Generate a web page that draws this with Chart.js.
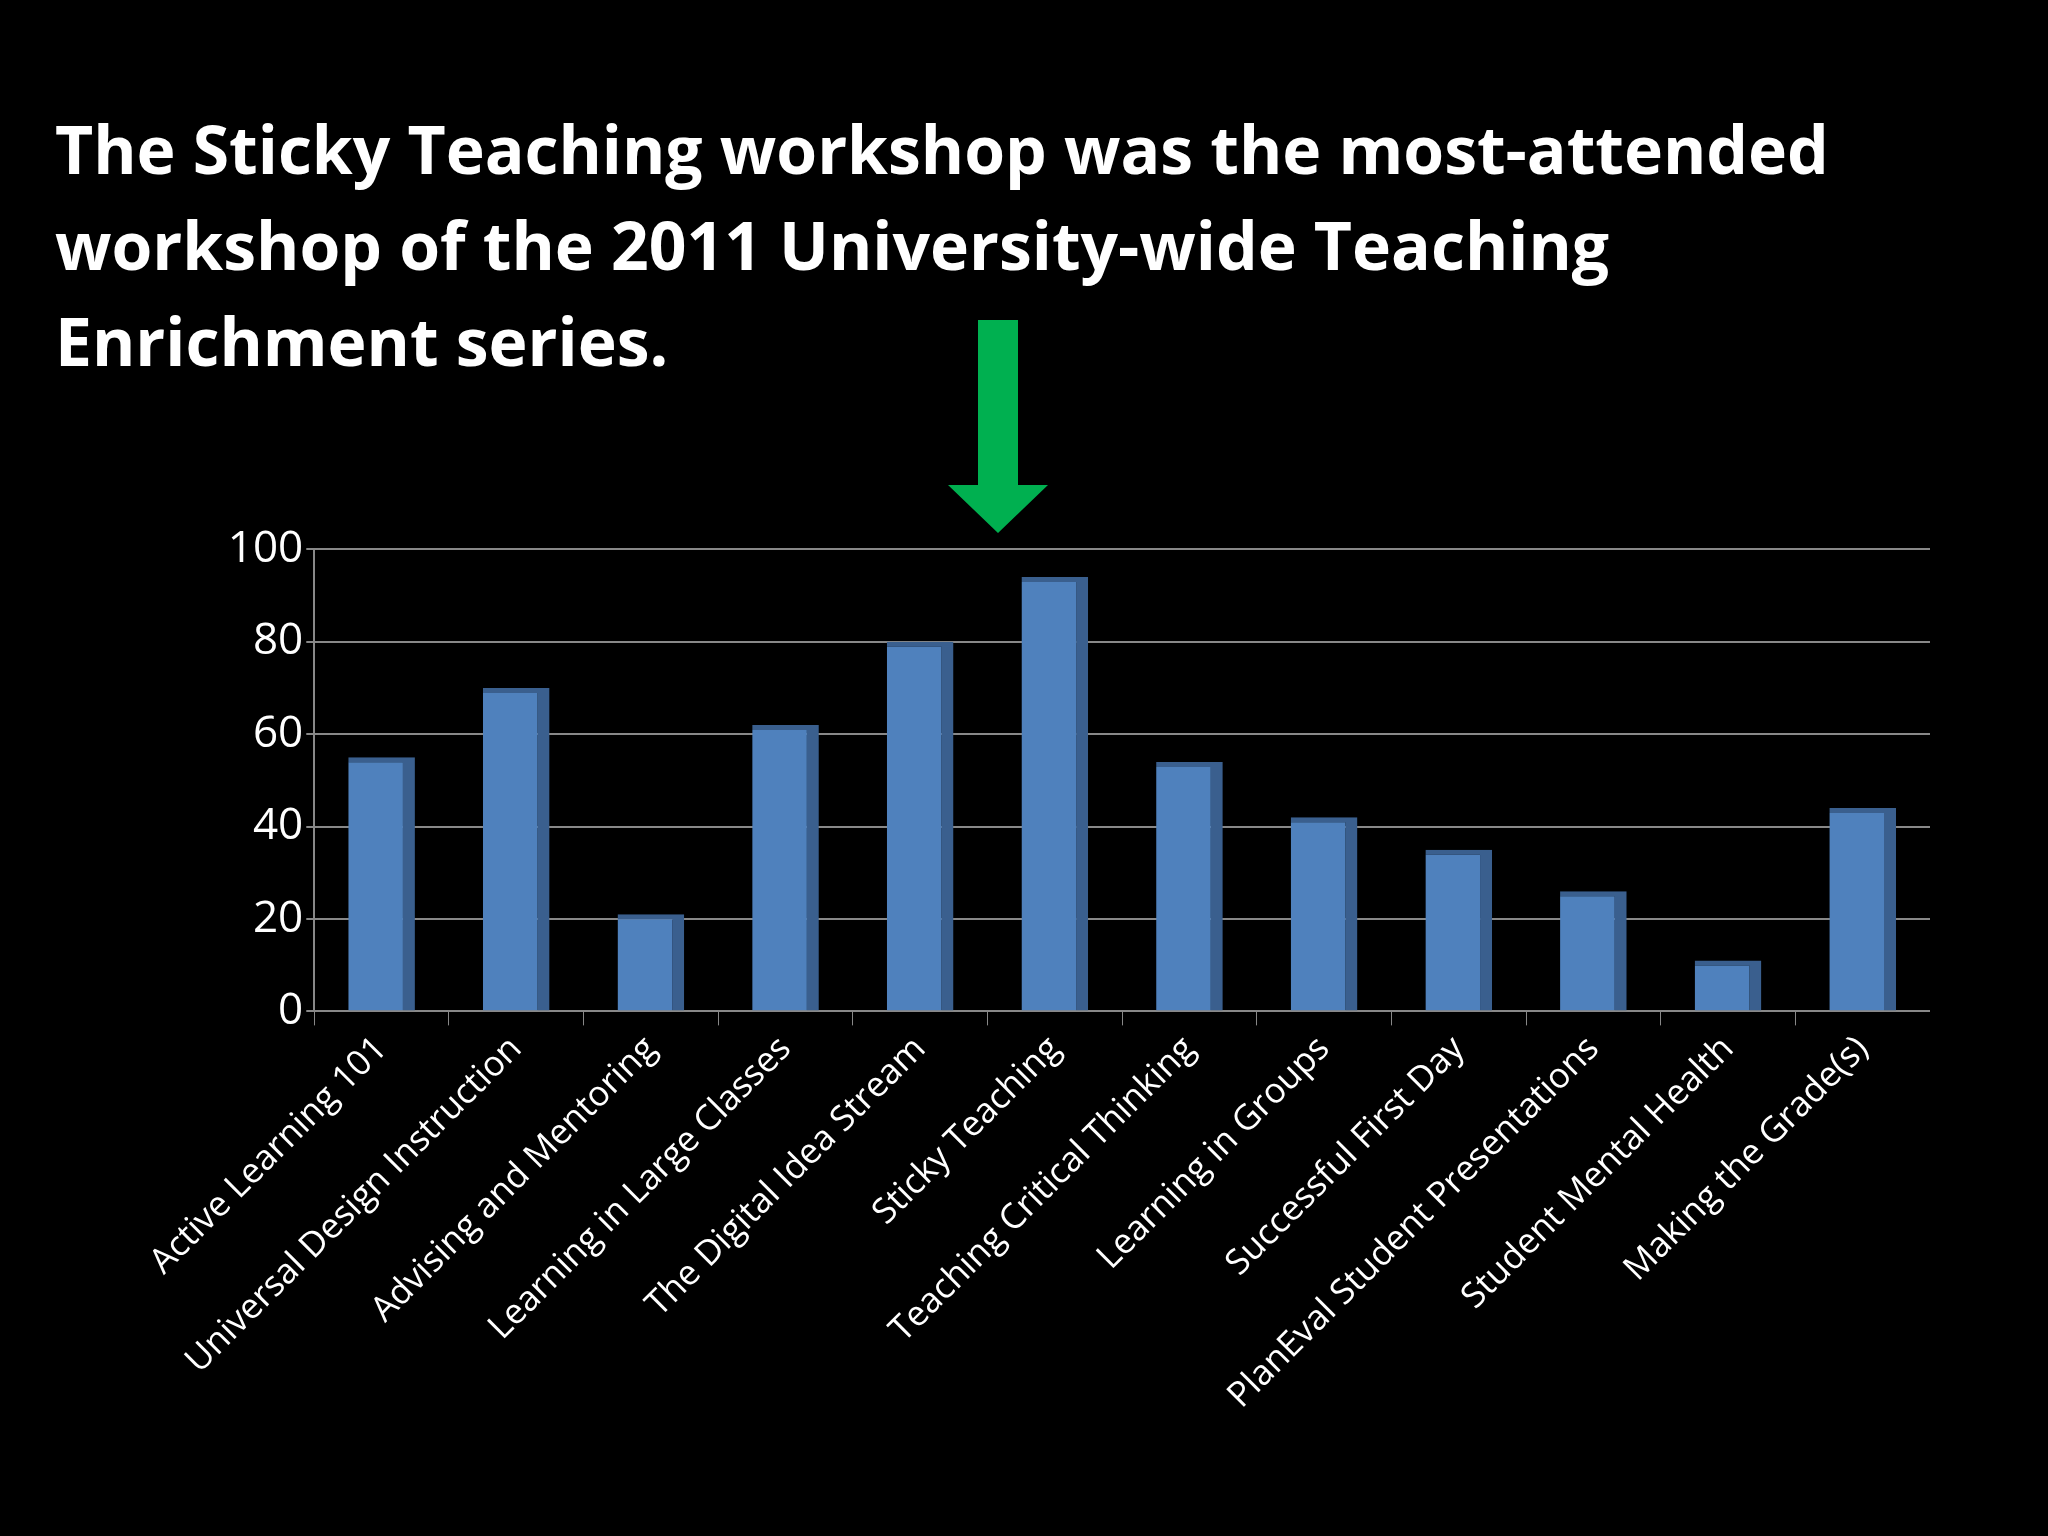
<!DOCTYPE html>
<html><head><meta charset="utf-8">
<script src="https://cdn.jsdelivr.net/npm/chart.js@4"></script>
<style>
html,body{margin:0;background:#000;width:2048px;height:1536px;overflow:hidden;font-family:"Open Sans",sans-serif}
#title{position:absolute;left:55px;top:100px;color:#fff;font-weight:bold;font-size:66px;line-height:96px;width:1900px}
#wrap{position:absolute;left:150px;top:520px;width:1780px;height:900px}
#arrow{position:absolute;left:948px;top:320px}
</style></head><body>
<div id="title">The Sticky Teaching workshop was the most-attended<br>workshop of the 2011 University-wide Teaching<br>Enrichment series.</div>
<svg id="arrow" width="100" height="215"><polygon points="30,0 70,0 70,165 100,165 50,213 0,165 30,165" fill="#00b050"/></svg>
<div id="wrap"><canvas id="c"></canvas></div>
<script>
const categories=["Active Learning 101","Universal Design Instruction","Advising and Mentoring","Learning in Large Classes","The Digital Idea Stream","Sticky Teaching","Teaching Critical Thinking","Learning in Groups","Successful First Day","PlanEval Student Presentations","Student Mental Health","Making the Grade(s)"];
const attendance=[55,70,21,62,80,94,54,42,35,26,11,44];
const yTicks=[0,20,40,60,80,100];
new Chart(document.getElementById('c'),{type:'bar',
data:{labels:categories,datasets:[{data:attendance,backgroundColor:'#4f81bd',borderColor:'#3a5f8e',borderWidth:{right:12,top:5},categoryPercentage:0.9,barPercentage:0.55}]},
options:{responsive:true,maintainAspectRatio:false,animation:false,
plugins:{legend:{display:false},tooltip:{enabled:false}},
scales:{
y:{min:0,max:100,afterBuildTicks:a=>{a.ticks=yTicks.map(v=>({value:v}))},ticks:{color:'#fff',font:{size:44,family:'Open Sans'}},grid:{color:'#888',lineWidth:2},border:{color:'#888',width:2}},
x:{ticks:{color:'#fff',font:{size:35,family:'Open Sans'},maxRotation:45,minRotation:45},grid:{display:true,drawOnChartArea:false,color:'#888',tickLength:14},border:{color:'#888',width:2}}
}}});
</script></body></html>
